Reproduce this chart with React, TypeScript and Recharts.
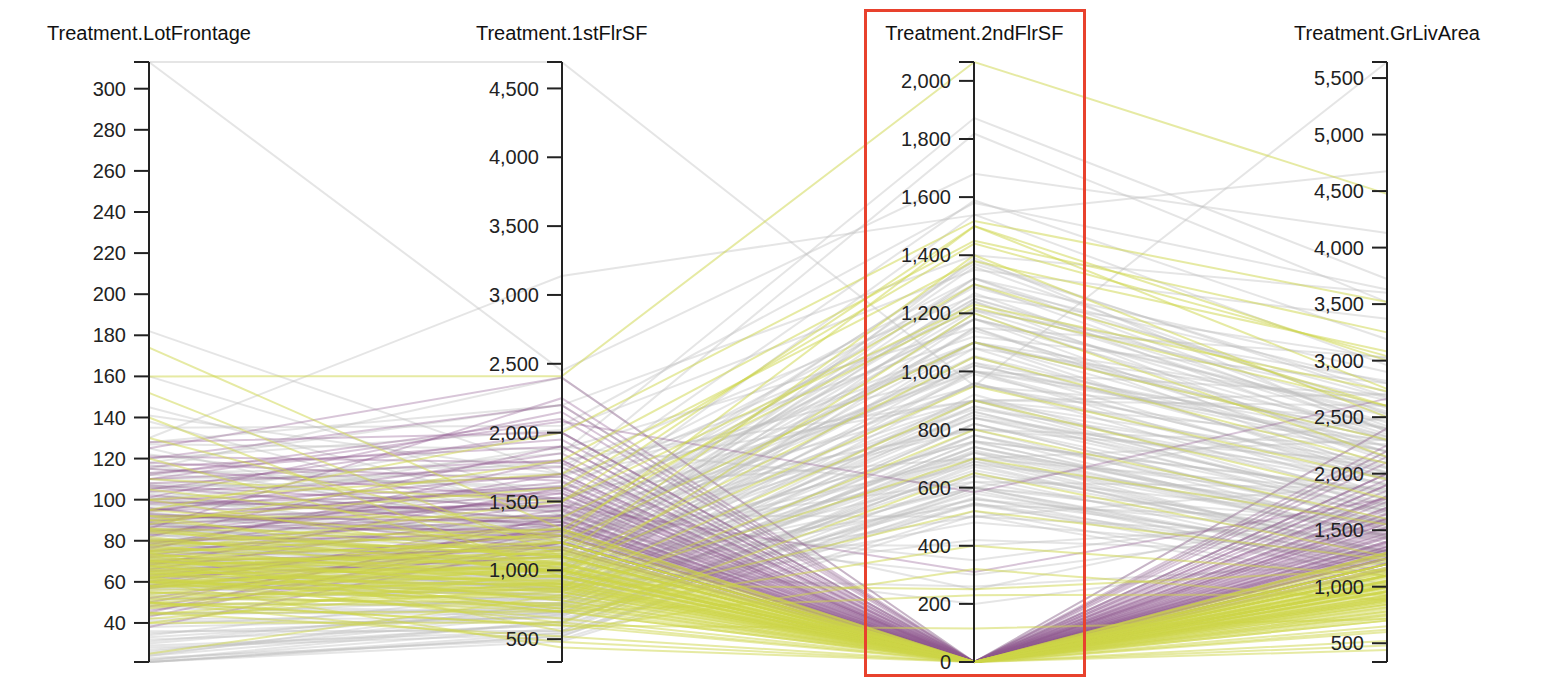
import React from 'react';
import { LineChart, Line, XAxis, YAxis } from 'recharts';

const FONT = '"Liberation Sans", Arial, Helvetica, sans-serif';

const dimensions = ['Treatment.LotFrontage', 'Treatment.1stFlrSF', 'Treatment.2ndFlrSF', 'Treatment.GrLivArea'];
const domains: [number, number][] = [[21, 313], [334, 4692], [0, 2065], [334, 5642]];
const lotFrontageTicks = [40, 60, 80, 100, 120, 140, 160, 180, 200, 220, 240, 260, 280, 300];
const firstFlrTicks = [500, 1000, 1500, 2000, 2500, 3000, 3500, 4000, 4500];
const secondFlrTicks = [0, 200, 400, 600, 800, 1000, 1200, 1400, 1600, 1800, 2000];
const grLivTicks = [500, 1000, 1500, 2000, 2500, 3000, 3500, 4000, 4500, 5000, 5500];
const tickLists = [lotFrontageTicks, firstFlrTicks, secondFlrTicks, grLivTicks];

// [LotFrontage, 1stFlrSF, 2ndFlrSF, GrLivArea]
const grayRecords: number[][] = [
  [313, 4692, 950, 5642], [130, 3138, 1538, 4676], [313, 2450, 1680, 4130], [182, 1700, 900, 2600],
  [160, 1500, 1300, 2800], [135, 2050, 1580, 3630], [118, 2200, 1400, 3600], [105, 1850, 1872, 3722],
  [110, 1700, 1818, 3518], [95, 1600, 1589, 3189], [100, 1420, 1540, 2960], [92, 1350, 1370, 2720],
  [88, 1260, 1320, 2580], [85, 1200, 1250, 2450], [80, 1150, 1180, 2330], [78, 1100, 1140, 2240],
  [75, 1050, 1100, 2150], [72, 1000, 1050, 2050], [70, 980, 1000, 1980], [68, 940, 960, 1900],
  [65, 900, 900, 1800], [63, 880, 860, 1740], [60, 850, 820, 1670], [58, 820, 780, 1600],
  [55, 790, 740, 1530], [52, 760, 700, 1460], [50, 730, 660, 1390], [48, 700, 620, 1320],
  [45, 680, 580, 1260], [42, 650, 540, 1190], [21, 525, 567, 1092], [21, 483, 504, 987],
  [24, 630, 672, 1302], [21, 546, 546, 1092], [32, 600, 600, 1200], [24, 764, 862, 1626],
  [35, 672, 546, 1218], [21, 520, 600, 1120], [34, 855, 601, 1456], [30, 728, 728, 1456],
  [26, 700, 800, 1500], [22, 580, 680, 1260], [110, 1434, 1216, 2650], [122, 1500, 1100, 2600],
  [141, 1700, 1000, 2700], [115, 1580, 1320, 2900], [100, 1800, 900, 2700], [120, 2020, 1350, 3370],
  [90, 1300, 1100, 2400], [84, 1145, 1053, 2198], [98, 1250, 950, 2200], [76, 1050, 850, 1900],
  [67, 1010, 720, 1730], [62, 960, 600, 1560], [57, 930, 500, 1430], [73, 1190, 400, 1590],
  [80, 1370, 350, 1720], [59, 950, 260, 1210], [85, 1600, 700, 2300], [95, 1900, 600, 2500],
  [104, 1300, 1250, 2550], [86, 1080, 1300, 2380], [79, 990, 1200, 2190], [66, 860, 1150, 2010],
  [138, 1300, 800, 2100], [125, 1200, 900, 2100], [145, 1400, 1000, 2400], [128, 2200, 0, 2200],
  [115, 2400, 0, 2400], [100, 2000, 0, 2000],
  [61, 756, 756, 1512], [74, 840, 880, 1720], [83, 1020, 990, 2010], [69, 910, 1030, 1940],
  [77, 1180, 870, 2050], [89, 1140, 1210, 2350], [93, 1230, 1100, 2330], [56, 880, 690, 1570],
  [64, 800, 960, 1760], [71, 1090, 760, 1850], [81, 970, 1150, 2120], [87, 1330, 1180, 2510],
  [99, 1380, 1290, 2670], [103, 1170, 1360, 2530], [108, 1520, 1080, 2600], [112, 1610, 1210, 2820],
  [117, 1290, 1030, 2320], [53, 740, 820, 1560], [47, 690, 760, 1450], [41, 620, 690, 1310],
  [36, 560, 640, 1200], [28, 540, 590, 1130], [23, 500, 520, 1020], [27, 610, 700, 1310],
  [33, 700, 650, 1350], [39, 750, 560, 1310], [44, 800, 480, 1280], [51, 870, 420, 1290],
  [69, 1050, 540, 1590], [78, 1250, 620, 1870], [91, 1460, 800, 2260], [97, 1520, 950, 2470],
  [106, 1680, 1120, 2800], [113, 1760, 1260, 3020], [127, 1880, 1150, 3030], [89, 980, 1390, 2370],
  [94, 1100, 1320, 2420], [70, 860, 1100, 1960], [62, 820, 1000, 1820], [57, 780, 920, 1700],
  [82, 1400, 500, 1900], [75, 1280, 300, 1580], [66, 1120, 200, 1320], [88, 1500, 250, 1750],
  [79, 1000, 680, 1680], [60, 900, 560, 1460],
  [72, 936, 840, 1776], [80, 1064, 900, 1964], [86, 1176, 1020, 2196], [64, 870, 780, 1650],
  [59, 812, 740, 1552], [75, 1000, 960, 1960], [68, 1120, 840, 1960], [93, 1288, 1000, 2288],
  [101, 1200, 1100, 2300], [77, 920, 1080, 2000], [83, 1100, 760, 1860], [90, 1400, 900, 2300],
  [71, 960, 640, 1600], [65, 1030, 880, 1910], [54, 840, 840, 1680], [49, 760, 900, 1660],
  [44, 720, 720, 1440], [38, 660, 780, 1440], [29, 560, 720, 1280], [22, 630, 600, 1230],
  [25, 680, 740, 1420], [31, 750, 820, 1570], [107, 1350, 1180, 2530], [96, 1160, 1240, 2400],
  [88, 1020, 1270, 2290], [81, 1220, 1020, 2240], [74, 1140, 700, 1840], [67, 880, 1180, 2060],
  [58, 900, 1240, 2140], [85, 1300, 1380, 2680],
];

const purpleRecords: number[][] = [
  [80, 1262, 0, 1262], [100, 1600, 0, 1600], [90, 1500, 0, 1500], [110, 1800, 0, 1800],
  [75, 1350, 0, 1350], [85, 1400, 0, 1400], [95, 1700, 0, 1700], [105, 2000, 0, 2000],
  [120, 2200, 0, 2200], [70, 1250, 0, 1250], [65, 1200, 0, 1200], [60, 1300, 0, 1300],
  [88, 1470, 0, 1470], [98, 1560, 0, 1560], [45, 1400, 0, 1400], [43, 1300, 0, 1300],
  [48, 1200, 0, 1200], [125, 2400, 0, 2400], [118, 1650, 0, 1650], [92, 1350, 0, 1350],
  [78, 1700, 0, 1700], [82, 1900, 0, 1900], [107, 1450, 0, 1450], [112, 2100, 0, 2100],
  [73, 1480, 0, 1480], [68, 1600, 0, 1600], [93, 1250, 0, 1250], [102, 1320, 0, 1320],
  [58, 1380, 0, 1380], [86, 2250, 0, 2250], [76, 1800, 0, 1800], [96, 1150, 0, 1150],
  [115, 1520, 0, 1520], [62, 1100, 0, 1100], [84, 1580, 0, 1580], [52, 1250, 0, 1250],
  [108, 1750, 0, 1750], [128, 2000, 0, 2000], [110, 2080, 584, 2664], [95, 1470, 310, 1780],
  [46, 1150, 0, 1150], [38, 1200, 0, 1200],
  [79, 1390, 0, 1390], [91, 1610, 0, 1610], [104, 1680, 0, 1680], [99, 1430, 0, 1430],
  [87, 1290, 0, 1290], [72, 1330, 0, 1330], [66, 1440, 0, 1440], [83, 1530, 0, 1530],
  [113, 1950, 0, 1950], [121, 1780, 0, 1780], [94, 1850, 0, 1850], [57, 1210, 0, 1210],
  [69, 1170, 0, 1170], [101, 2150, 0, 2150], [89, 1640, 0, 1640], [77, 1560, 0, 1560],
  [106, 1360, 0, 1360], [116, 1900, 0, 1900], [63, 1280, 0, 1280], [50, 1330, 0, 1330],
];

const yellowRecords: number[][] = [
  [60, 864, 0, 864], [50, 900, 0, 900], [70, 1000, 0, 1000], [65, 1100, 0, 1100],
  [55, 800, 0, 800], [75, 950, 0, 950], [80, 1050, 0, 1050], [62, 1200, 0, 1200],
  [68, 720, 0, 720], [52, 760, 0, 760], [57, 1150, 0, 1150], [72, 880, 0, 880],
  [78, 1250, 0, 1250], [85, 980, 0, 980], [90, 1100, 0, 1100], [45, 700, 0, 700],
  [60, 650, 0, 650], [40, 1000, 0, 1000], [64, 1020, 0, 1020], [58, 960, 0, 960],
  [66, 840, 0, 840], [74, 1300, 0, 1300], [50, 600, 0, 600], [63, 930, 0, 930],
  [69, 1060, 0, 1060], [71, 780, 0, 780], [54, 1080, 0, 1080], [48, 840, 0, 840],
  [76, 1140, 0, 1140], [82, 900, 0, 900], [67, 1170, 0, 1170], [59, 1040, 0, 1040],
  [61, 740, 0, 740], [73, 990, 0, 990], [44, 920, 0, 920], [95, 1200, 0, 1200],
  [100, 1050, 0, 1050], [120, 1000, 0, 1000], [174, 1300, 0, 1300], [152, 1100, 0, 1100],
  [140, 950, 0, 950], [130, 1200, 0, 1200], [160, 2410, 2065, 4475], [60, 800, 800, 1600],
  [70, 950, 1200, 2150], [85, 1100, 1400, 2500], [75, 1500, 1500, 3000], [90, 1600, 1440, 3040],
  [65, 700, 400, 1100], [50, 480, 0, 480], [45, 520, 0, 520], [60, 440, 0, 440],
  [50, 600, 115, 715], [62, 700, 230, 930], [70, 900, 250, 1150], [95, 2000, 1518, 3518],
  [88, 1800, 1450, 3250], [80, 1300, 1300, 2600], [72, 1200, 1100, 2300], [64, 1000, 950, 1950],
  [58, 850, 700, 1550], [110, 1500, 1230, 2730], [100, 1700, 1380, 3080],
  [61, 896, 0, 896], [66, 1008, 0, 1008], [70, 1120, 0, 1120], [73, 1040, 0, 1040],
  [56, 912, 0, 912], [53, 864, 0, 864], [67, 960, 0, 960], [71, 1092, 0, 1092],
  [63, 816, 0, 816], [58, 1100, 0, 1100], [75, 1200, 0, 1200], [79, 1160, 0, 1160],
  [81, 1000, 0, 1000], [64, 880, 0, 880], [69, 780, 0, 780], [55, 700, 0, 700],
  [51, 960, 0, 960], [47, 1050, 0, 1050], [42, 880, 0, 880], [77, 1020, 0, 1020],
  [84, 1100, 0, 1100], [86, 1230, 0, 1230], [62, 1280, 0, 1280], [60, 1000, 0, 1000],
  [65, 920, 0, 920], [74, 850, 0, 850], [68, 1130, 0, 1130], [57, 1000, 0, 1000],
  [49, 750, 0, 750], [92, 960, 0, 960], [40, 620, 0, 620], [25, 820, 0, 820],
  [68, 720, 520, 1240], [78, 880, 900, 1780], [62, 620, 650, 1270], [86, 1040, 1050, 2090],
  [92, 1380, 1220, 2600], [105, 1250, 1500, 2750], [74, 560, 320, 880],
];

const groups = [
  { key: 'g', records: grayRecords, color: '#bdbdbd', opacity: 0.4 },
  { key: 'p', records: purpleRecords, color: '#8f5a8f', opacity: 0.35 },
  { key: 'y', records: yellowRecords, color: '#cdd548', opacity: 0.5 },
];

const W = 1528;
const H = 672;
const PLOT_LEFT = 141;
const PLOT_RIGHT = 1379;
const PLOT_TOP = 54;
const PLOT_BOTTOM = 654;
const AW = 130;

const norm = (v: number, j: number) => (v - domains[j][0]) / (domains[j][1] - domains[j][0]);

const rows = dimensions.map((_, j) => {
  const row: Record<string, number> = { x: j };
  groups.forEach((g) => g.records.forEach((r, i) => { row[g.key + i] = norm(r[j], j); }));
  return row;
});

function DimAxis({ index }: { index: number }) {
  const [lo, hi] = domains[index];
  const list = tickLists[index];
  const ticks = Array.from(new Set([lo, ...list, hi]));
  const axisX = PLOT_LEFT + (index * (PLOT_RIGHT - PLOT_LEFT)) / 3;
  return (
    <div style={{ position: 'absolute', left: axisX - AW, top: 0, pointerEvents: 'none' }}>
      <LineChart width={AW + 4} height={H} margin={{ top: PLOT_TOP, right: 4, bottom: H - PLOT_BOTTOM, left: 0 }} data={[{ x: 0 }, { x: 1 }]}>
        <XAxis dataKey="x" hide />
        <YAxis
          type="number"
          domain={[lo, hi]}
          ticks={ticks}
          interval={0}
          width={AW}
          tickSize={15}
          tickMargin={8}
          allowDataOverflow
          axisLine={{ stroke: '#222', strokeWidth: 2 }}
          tickLine={{ stroke: '#222', strokeWidth: 2 }}
          tick={{ fontSize: 20, fill: '#222', fontFamily: FONT }}
          tickFormatter={(v: number) => (list.includes(v) ? v.toLocaleString('en-US') : '')}
        />
      </LineChart>
    </div>
  );
}

export default function App() {
  return (
    <div style={{ position: 'relative', width: W, height: H, background: '#fff' }}>
      <LineChart width={W} height={H} data={rows} margin={{ top: 4, right: W - PLOT_RIGHT, bottom: H - PLOT_BOTTOM, left: PLOT_LEFT }}>
        <XAxis
          type="number"
          dataKey="x"
          domain={[0, 3]}
          ticks={[0, 1, 2, 3]}
          interval={0}
          orientation="top"
          height={PLOT_TOP - 4}
          axisLine={false}
          tickLine={false}
          tickSize={0}
          tickMargin={22}
          tick={{ fontSize: 20, fill: '#111', fontFamily: FONT }}
          tickFormatter={(v: number) => dimensions[v]}
        />
        <YAxis type="number" domain={[0, 1]} hide />
        {groups.map((g) =>
          g.records.map((_, i) => (
            <Line
              key={g.key + i}
              dataKey={g.key + i}
              stroke={g.color}
              strokeOpacity={g.opacity}
              strokeWidth={2}
              dot={false}
              activeDot={false}
              isAnimationActive={false}
            />
          ))
        )}
      </LineChart>
      {dimensions.map((_, j) => (
        <DimAxis key={j} index={j} />
      ))}
      <div
        style={{
          position: 'absolute',
          left: 856,
          top: 1,
          width: 222,
          height: 668,
          border: '3px solid #e8412d',
          boxSizing: 'border-box',
          pointerEvents: 'none',
        }}
      />
    </div>
  );
}
